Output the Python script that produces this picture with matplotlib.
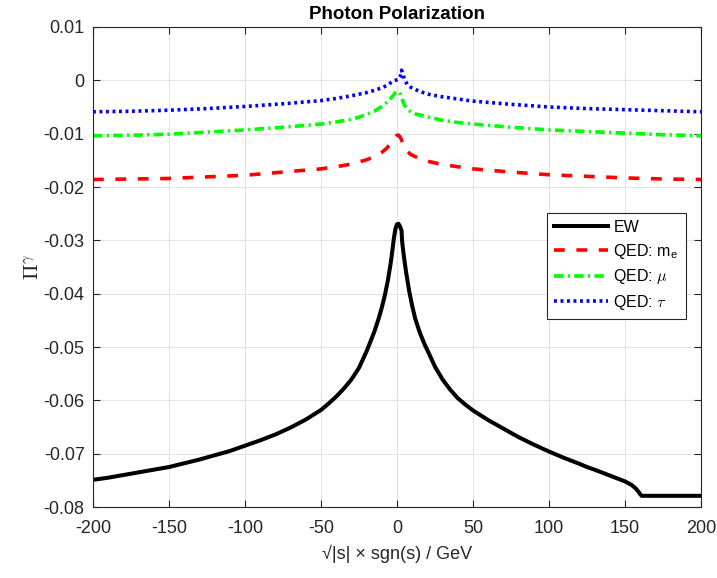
import matplotlib
matplotlib.use("Agg")
import matplotlib.pyplot as plt

plt.rcParams['font.family'] = ['Liberation Sans', 'DejaVu Sans']
plt.rcParams['mathtext.fontset'] = 'cm'
plt.rcParams['axes.unicode_minus'] = False

# ---- data ----
ew_x = [-200, -190, -180, -170, -160, -150, -140, -130, -120, -110, -100, -90, -80, -70,
        -60, -50, -45, -40, -35, -30, -25, -20, -15, -12, -10, -8, -6, -4, -3, -2, -1,
        0, 1, 2, 3, 3.3, 4, 5, 6, 8, 10, 12, 15, 18, 20, 25, 30, 35, 40, 45, 50,
        60, 70, 75, 80, 90, 100, 110, 120, 125, 130, 140, 150, 154, 157, 159, 160, 161,
        170, 200]
ew_y = [-0.0749, -0.0745, -0.0740, -0.0735, -0.0730, -0.0725, -0.0718, -0.0711, -0.0703,
        -0.0695, -0.0685, -0.0675, -0.0664, -0.0651, -0.0636, -0.0618, -0.0606, -0.0593,
        -0.0578, -0.0561, -0.0539, -0.0508, -0.0472, -0.0446, -0.0426, -0.0403, -0.0375,
        -0.0340, -0.0318, -0.0295, -0.0278, -0.0270, -0.0269, -0.0274, -0.0282, -0.0300,
        -0.0318, -0.0340, -0.0360, -0.0395, -0.0423, -0.0447, -0.0473, -0.0494, -0.0506,
        -0.0537, -0.0561, -0.0580, -0.0596, -0.0608, -0.0619, -0.0637, -0.0653,
        -0.0661, -0.0669, -0.0683, -0.0696, -0.0708, -0.0719, -0.0725, -0.0730, -0.0741,
        -0.0752, -0.0758, -0.0765, -0.0772, -0.0776, -0.0779, -0.0779, -0.0779]

qed_x = [-200, -175, -150, -125, -100, -75, -50, -40, -30, -25, -20, -15, -10, -7, -5,
         -3, -2, -1, 0, 1, 2, 3, 4, 5, 6.8, 9, 12, 15, 20.6, 30, 40, 50, 75, 100, 125,
         150, 175, 200]
me_y = [-0.0186, -0.0185, -0.0184, -0.0181, -0.0178, -0.0172, -0.0166, -0.0162, -0.0157,
        -0.0153, -0.0149, -0.0143, -0.0135, -0.0128, -0.0121, -0.0114, -0.0110, -0.0106,
        -0.0103, -0.0103, -0.0106, -0.0112, -0.0120, -0.0127, -0.0133, -0.0139, -0.0143,
        -0.0147, -0.0152, -0.0158, -0.0162, -0.0166, -0.0172, -0.0177, -0.0180, -0.0183,
        -0.0185, -0.0186]
mu_y = [-0.0104, -0.0103, -0.0101, -0.0097, -0.0093, -0.0088, -0.0082, -0.0078, -0.0073,
        -0.0069, -0.0064, -0.0058, -0.0049, -0.0042, -0.0037, -0.0030, -0.0026, -0.0023,
        -0.0021, -0.0021, -0.0025, -0.0032, -0.0040, -0.0047, -0.0054, -0.0059, -0.0063,
        -0.0065, -0.0069, -0.0075, -0.0079, -0.0082, -0.0088, -0.0093, -0.0096, -0.0099,
        -0.0102, -0.0104]
tau_y = [-0.0059, -0.0058, -0.0056, -0.0053, -0.0049, -0.0044, -0.0038, -0.0034, -0.0029,
         -0.0026, -0.0023, -0.0019, -0.0014, -0.0010, -0.0006, -0.0003, -0.0001, 0.0000,
         0.0001, 0.0002, 0.0006, 0.0019, 0.0010, 0.0001, -0.0008, -0.0013, -0.0017,
         -0.0021, -0.0026, -0.0031, -0.0035, -0.0039, -0.0045, -0.0050, -0.0053, -0.0055,
         -0.0057, -0.0059]

x_ticks = [-200, -150, -100, -50, 0, 50, 100, 150, 200]
y_ticks = [-0.08, -0.07, -0.06, -0.05, -0.04, -0.03, -0.02, -0.01, 0, 0.01]
y_ticklabels = ['-0.08', '-0.07', '-0.06', '-0.05', '-0.04', '-0.03', '-0.02', '-0.01', '0', '0.01']

# ---- plot ----
fig = plt.figure(figsize=(7.17, 5.78), dpi=100)
ax = fig.add_axes([0.1297, 0.1228, 0.8480, 0.8305])

ax.plot(ew_x, ew_y, color='black', lw=2.9, label='EW')
ax.plot(qed_x, me_y, color='#ff0000', lw=2.6, dashes=(3.0, 3.2), label=r'QED: m$_\mathregular{e}$')
ax.plot(qed_x, mu_y, color='#00ff00', lw=2.6, dashes=(2.6, 1.2, 0.6, 1.2), label=r'QED: $\mu$')
ax.plot(qed_x, tau_y, color='#0000ff', lw=2.6, dashes=(0.8, 1.0), label=r'QED: $\tau$')

ax.set_xlim(-200, 200)
ax.set_ylim(-0.08, 0.01)
ax.set_xticks(x_ticks)
ax.set_yticks(y_ticks)
ax.set_yticklabels(y_ticklabels)
ax.tick_params(direction='in', top=True, right=True, labelsize=13, colors='#262626',
               length=5, width=0.8)
ax.tick_params(axis='x', pad=9)
ax.tick_params(axis='y', pad=6)
for sp in ax.spines.values():
    sp.set_color('#262626')
    sp.set_linewidth(0.8)
ax.grid(True, color='#e3e3e3', lw=0.8)
ax.set_axisbelow(True)

ax.set_title('Photon Polarization', fontsize=13.5, fontweight='bold', pad=6)
ax.set_xlabel('√|s| × sgn(s) / GeV', fontsize=13, color='#262626', labelpad=6)
ax.set_ylabel(r'$\Pi^\gamma$', fontsize=15, color='#262626', labelpad=0)

leg = ax.legend(loc='upper right', bbox_to_anchor=(0.975, 0.613), borderaxespad=0,
                fontsize=11.5, handlelength=3.4, handletextpad=0.3, labelspacing=0.42,
                borderpad=0.45, fancybox=False, framealpha=1, edgecolor='#262626')
leg.get_frame().set_linewidth(0.8)

plt.savefig('out.png', dpi=100)
